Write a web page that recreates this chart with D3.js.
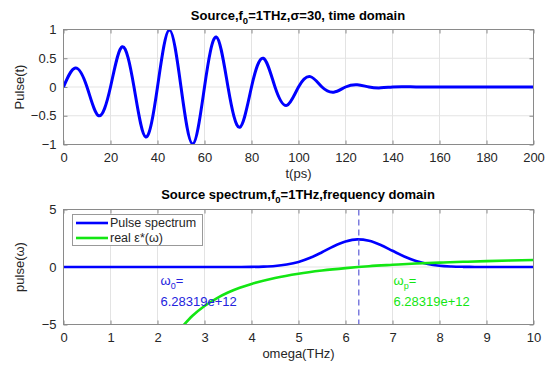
<!DOCTYPE html>
<html>
<head>
<meta charset="utf-8">
<script src="https://cdn.jsdelivr.net/npm/d3@7"></script>
<style>
  html, body { margin: 0; padding: 0; background: #fff; }
  svg { display: block; }
  text { font-family: "Liberation Sans", Arial, Helvetica, sans-serif; }
</style>
</head>
<body>
<svg id="chart" width="546" height="367"></svg>
<script>
// ---- time-domain pulse samples (ps, amplitude) ----
const timePs = [0, 5, 10, 15, 20, 25, 30, 35, 40, 45, 50, 55, 60, 65, 70, 75, 80, 85, 90, 95, 100,
  105, 110, 115, 120, 125, 130, 135, 140, 145, 150, 155, 160, 165, 170, 175, 180, 185, 190, 195, 200];
const pulseT = [0, 0.33, 0, -0.5, 0, 0.7, 0, -0.87, 0, 0.99, 0, -0.99, 0, 0.87, 0, -0.7, 0, 0.5, 0, -0.32, 0,
  0.18, 0, -0.09, 0, 0.04, 0, -0.015, 0, 0.005, 0, 0, 0, 0, 0, 0, 0, 0, 0, 0, 0];
const timeTicks = [0, 20, 40, 60, 80, 100, 120, 140, 160, 180, 200];
const pulseTicks = [-1, -0.5, 0, 0.5, 1];

// ---- spectrum samples (THz) ----
const specOmega = [0, 1, 2, 3, 3.5, 4, 4.25, 4.5, 4.75, 5, 5.25, 5.5, 5.75, 6, 6.25, 6.5, 6.75, 7,
  7.25, 7.5, 7.75, 8, 8.25, 8.5, 8.75, 9, 9.5, 10];
const specValue = [0, 0, 0, 0, 0.002, 0.011, 0.034, 0.091, 0.22, 0.44, 0.8, 1.28, 1.8, 2.21, 2.4, 2.28, 1.91, 1.41,
  0.91, 0.52, 0.26, 0.11, 0.044, 0.015, 0.004, 0, 0, 0];

// ---- real part of permittivity ----
const epsOmega = [2.5, 2.75, 3, 3.25, 3.5, 3.75, 4, 4.5, 5, 5.5, 6, 6.5, 7, 7.5, 8, 8.5, 9, 9.5, 10];
const epsValue = [-5.32, -4.22, -3.39, -2.74, -2.22, -1.81, -1.47, -0.95, -0.58, -0.31, -0.1, 0.07, 0.19, 0.3, 0.38,
  0.45, 0.51, 0.56, 0.61];
const omegaTicks = [0, 1, 2, 3, 4, 5, 6, 7, 8, 9, 10];
const specTicks = [-5, 0, 5];

const omega0 = 6.28319;      // centre frequency marker (THz)
const omega0Label = "6.28319e+12";
const omegaPLabel = "6.28319e+12";

const svg = d3.select("#chart");
const BOX = "#8a8a8a", GRID = "#e3e3e3", TXT = "#262626";
const BLUE = "#0000ff", GREEN = "#13e613";

const left = 63.5, right = 533.5;

function panel(cfg) {
  const g = svg.append("g");
  const x = d3.scaleLinear().domain(cfg.xDomain).range([left, right]);
  const y = d3.scaleLinear().domain(cfg.yDomain).range([cfg.bottom, cfg.top]);

  // grid
  g.append("g").selectAll("line").data(cfg.xTicks).join("line")
    .attr("x1", d => x(d)).attr("x2", d => x(d)).attr("y1", cfg.top).attr("y2", cfg.bottom)
    .attr("stroke", GRID).attr("stroke-width", 1);
  g.append("g").selectAll("line").data(cfg.yTicks).join("line")
    .attr("y1", d => y(d)).attr("y2", d => y(d)).attr("x1", left).attr("x2", right)
    .attr("stroke", GRID).attr("stroke-width", 1);

  // axes with inward ticks on all four sides
  const tl = 4;
  g.append("g").attr("transform", `translate(0,${cfg.bottom})`)
    .call(d3.axisBottom(x).tickValues(cfg.xTicks).tickSize(-tl).tickPadding(8).tickFormat(d3.format("")))
    .call(a => a.select(".domain").remove());
  g.append("g").attr("transform", `translate(0,${cfg.top})`)
    .call(d3.axisTop(x).tickValues(cfg.xTicks).tickSize(-tl).tickFormat(""))
    .call(a => a.select(".domain").remove());
  g.append("g").attr("transform", `translate(${left},0)`)
    .call(d3.axisLeft(y).tickValues(cfg.yTicks).tickSize(-tl).tickPadding(7).tickFormat(d3.format("")))
    .call(a => a.select(".domain").remove());
  g.append("g").attr("transform", `translate(${right},0)`)
    .call(d3.axisRight(y).tickValues(cfg.yTicks).tickSize(-tl).tickFormat(""))
    .call(a => a.select(".domain").remove());
  g.selectAll(".tick line").attr("stroke", BOX);
  g.selectAll(".tick text").attr("fill", TXT).attr("font-size", 13)
    .style("font-family", '"Liberation Sans", Arial, sans-serif');

  // clip for data
  const cid = "clip" + cfg.id;
  svg.append("clipPath").attr("id", cid).append("rect")
    .attr("x", left).attr("y", cfg.top).attr("width", right - left).attr("height", cfg.bottom - cfg.top);
  const plot = g.append("g").attr("clip-path", `url(#${cid})`);

  // box
  g.append("rect").attr("x", left).attr("y", cfg.top).attr("width", right - left)
    .attr("height", cfg.bottom - cfg.top).attr("fill", "none").attr("stroke", BOX).attr("stroke-width", 1);

  // axis labels
  g.append("text").attr("x", (left + right) / 2).attr("y", cfg.xLabelY).attr("text-anchor", "middle")
    .attr("font-size", 13).attr("fill", TXT).text(cfg.xLabel);
  g.append("text").attr("transform", `translate(24,${(cfg.top + cfg.bottom) / 2}) rotate(-90)`)
    .attr("text-anchor", "middle").attr("font-size", 13).attr("fill", TXT).text(cfg.yLabel);

  return { g, plot, x, y };
}

function title(yPos, before, after) {
  const t = svg.append("text").attr("x", 298).attr("y", yPos).attr("text-anchor", "middle")
    .attr("font-size", 13).attr("font-weight", "bold").attr("fill", "#000");
  t.append("tspan").text(before);
  t.append("tspan").attr("dy", 4).attr("font-size", 9.5).text("0");
  t.append("tspan").attr("dy", -4).text(after);
}

// ---------- time domain ----------
const timePanel = panel({
  id: "t", xDomain: [0, 200], yDomain: [-1, 1], top: 29.5, bottom: 144.5,
  xTicks: timeTicks, yTicks: pulseTicks, xLabel: "t(ps)", yLabel: "Pulse(t)", xLabelY: 178
});
title(20, "Source,f", "=1THz,\u03c3=30, time domain");

timePanel.plot.append("path")
  .datum(timePs.map((t, i) => [t, pulseT[i]]))
  .attr("fill", "none").attr("stroke", BLUE).attr("stroke-width", 3)
  .attr("stroke-linejoin", "round")
  .attr("d", d3.line().x(d => timePanel.x(d[0])).y(d => timePanel.y(d[1])).curve(d3.curveNatural));

// ---------- frequency domain ----------
const freqPanel = panel({
  id: "w", xDomain: [0, 10], yDomain: [-5, 5], top: 209.5, bottom: 324.5,
  xTicks: omegaTicks, yTicks: specTicks, xLabel: "omega(THz)", yLabel: "pulse(\u03c9)", xLabelY: 358
});
title(199, "Source spectrum,f", "=1THz,frequency domain");

freqPanel.plot.append("path")
  .datum(specOmega.map((w, i) => [w, specValue[i]]))
  .attr("fill", "none").attr("stroke", BLUE).attr("stroke-width", 2.6)
  .attr("d", d3.line().x(d => freqPanel.x(d[0])).y(d => freqPanel.y(d[1])).curve(d3.curveMonotoneX));

freqPanel.plot.append("path")
  .datum(epsOmega.map((w, i) => [w, epsValue[i]]))
  .attr("fill", "none").attr("stroke", GREEN).attr("stroke-width", 2.6)
  .attr("d", d3.line().x(d => freqPanel.x(d[0])).y(d => freqPanel.y(d[1])).curve(d3.curveMonotoneX));

// centre-frequency marker
freqPanel.plot.append("line")
  .attr("x1", freqPanel.x(omega0)).attr("x2", freqPanel.x(omega0)).attr("y1", 209.5).attr("y2", 324.5)
  .attr("stroke", "#5b5bd6").attr("stroke-width", 1.2).attr("stroke-dasharray", "6,4");

// annotations
function note(xp, color, sub, value) {
  const t1 = svg.append("text").attr("x", xp).attr("y", 285).attr("font-size", 13).attr("fill", color);
  t1.append("tspan").text("\u03c9");
  t1.append("tspan").attr("dy", 4).attr("font-size", 9).text(sub);
  t1.append("tspan").attr("dy", -4).text("=");
  svg.append("text").attr("x", xp).attr("y", 306).attr("font-size", 13).attr("fill", color).text(value);
}
note(freqPanel.x(2.0) + 3, "#2323dd", "0", omega0Label);
note(freqPanel.x(7.0) + 1, GREEN, "p", omegaPLabel);

// legend
const lg = svg.append("g");
lg.append("rect").attr("x", 72.5).attr("y", 214.5).attr("width", 130).attr("height", 31)
  .attr("fill", "#fff").attr("stroke", "#999").attr("stroke-width", 1);
const legendItems = [
  { label: "Pulse spectrum", color: BLUE },
  { label: "real \u03b5*(\u03c9)", color: GREEN }
];
legendItems.forEach((d, i) => {
  const yy = 223 + i * 15;
  lg.append("line").attr("x1", 76).attr("x2", 108).attr("y1", yy).attr("y2", yy)
    .attr("stroke", d.color).attr("stroke-width", 2.6);
  lg.append("text").attr("x", 110).attr("y", yy + 4).attr("font-size", 12.5).attr("fill", TXT).text(d.label);
});
</script>
</body>
</html>
